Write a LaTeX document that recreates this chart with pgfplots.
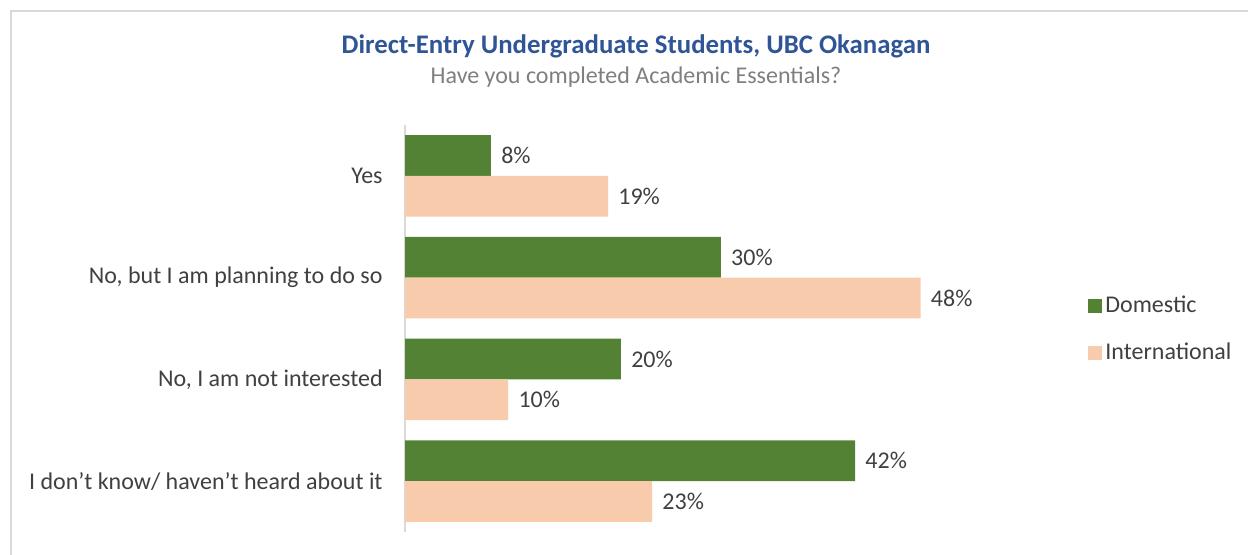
\documentclass[border=0pt]{standalone}
\usepackage{fontspec}
\setmainfont{Carlito}
\usepackage{pgfplots}
\pgfplotsset{compat=1.18}
\usepackage{pgfplotstable}
\definecolor{dom}{HTML}{548235}
\definecolor{intl}{HTML}{F8CBAD}
\definecolor{framec}{HTML}{D9D9D9}
\definecolor{txt}{HTML}{404040}
\definecolor{ttl}{HTML}{2F5597}
\definecolor{subc}{HTML}{7F7F7F}

\pgfplotstableread{
pos dom domlab intl intllab
3 8.0 8 18.9 19
2 29.4 30 48.0 48
1 20.1 20 9.6 10
0 41.9 42 23.0 23
}\datatable

\begin{document}
\begin{tikzpicture}
\useasboundingbox (0,0) rectangle (624pt,277.5pt);
\draw[framec, line width=0.8pt] (5.5pt,-2pt) -- (5.5pt,272pt) -- (626pt,272pt);
\node[font=\fontsize{13.4}{16}\selectfont\bfseries, text=ttl] at (318pt,254.5pt) {Direct-Entry Undergraduate Students, UBC Okanagan};
\node[font=\fontsize{12}{14}\selectfont, text=subc] at (318pt,239pt) {Have you completed Academic Essentials?};
\begin{axis}[
  at={(202.5pt,11.5pt)}, anchor=south west,
  scale only axis, width=311.5pt, height=203.5pt,
  xbar, bar width=0.4,
  xmin=0, xmax=58, ymin=-0.5, ymax=3.5,
  enlargelimits=false,
  axis x line=none,
  axis y line=left,
  y axis line style={draw=framec, line width=0.8pt, -},
  ytick={0,1,2,3},
  yticklabels={I don’t know/ haven’t heard about it, {No, I am not interested }, {No, but I am planning to do so}, Yes},
  major tick length=0pt,
  yticklabel style={font=\fontsize{12}{14}\selectfont, text=txt, anchor=east, inner sep=0pt, xshift=-11pt},
  nodes near coords={\pgfplotspointmeta\%},
  point meta=explicit symbolic,
  nodes near coords style={font=\fontsize{12}{14}\selectfont, text=txt, anchor=west, inner sep=0pt, xshift=5pt},
  legend style={draw=none, at={(1,0.498)}, anchor=west, xshift=27pt,
    font=\fontsize{12}{14}\selectfont, text=txt, row sep=10.5pt,
    nodes={inner sep=1.5pt}},
  legend cell align=left,
  legend image code/.code={\fill[#1] (0pt,-3.5pt) rectangle (7pt,3.5pt);},
]
\addplot[fill=dom, draw=none, bar shift=0.2] table[x=dom, y=pos, meta=domlab] {\datatable};
\addplot[fill=intl, draw=none, bar shift=-0.2] table[x=intl, y=pos, meta=intllab] {\datatable};
\legend{Domestic, International}
\end{axis}
\end{tikzpicture}
\end{document}
